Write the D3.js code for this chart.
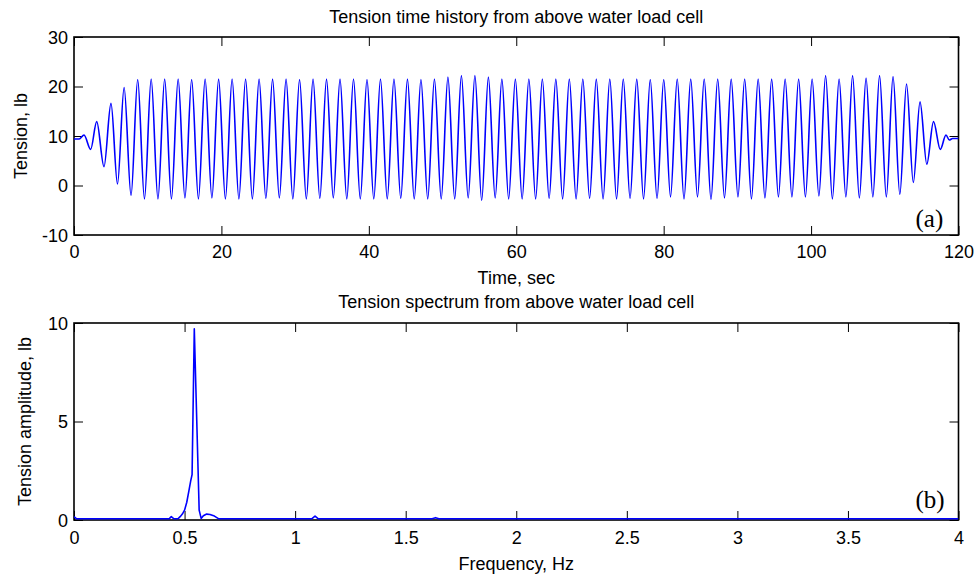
<!DOCTYPE html>
<html>
<head>
<meta charset="utf-8">
<script src="https://cdn.jsdelivr.net/npm/d3@7"></script>
<style>
  html, body { margin: 0; padding: 0; background: #fff; }
  svg { display: block; }
  text { font-family: "Liberation Sans", Arial, Helvetica, sans-serif; fill: #000; }
</style>
</head>
<body>
<svg id="chart" width="977" height="575"></svg>
<script>
// ---------- DATA ----------
// Panel (a): tension time history, turning points of the record
const timeSec = [
  0, 0.7, 1.36, 2.26, 3.08, 4.07, 5.02, 5.90, 6.80, 7.74,
  8.64, 9.56, 10.47, 11.39, 12.30, 13.22, 14.13, 15.05, 15.96, 16.88,
  17.79, 18.71, 19.62, 20.54, 21.45, 22.37, 23.28, 24.20, 25.11, 26.03,
  26.94, 27.86, 28.77, 29.69, 30.60, 31.52, 32.43, 33.35, 34.26, 35.18,
  36.09, 37.01, 37.92, 38.84, 39.75, 40.67, 41.58, 42.50, 43.41, 44.33,
  45.24, 46.16, 47.07, 47.99, 48.90, 49.82, 50.73, 51.65, 52.56, 53.48,
  54.39, 55.31, 56.22, 57.14, 58.05, 58.97, 59.88, 60.80, 61.71, 62.63,
  63.54, 64.46, 65.37, 66.29, 67.20, 68.12, 69.03, 69.95, 70.86, 71.78,
  72.69, 73.61, 74.52, 75.44, 76.35, 77.27, 78.18, 79.10, 80.01, 80.93,
  81.84, 82.76, 83.67, 84.59, 85.50, 86.42, 87.33, 88.25, 89.16, 90.08,
  90.99, 91.91, 92.82, 93.74, 94.65, 95.57, 96.48, 97.40, 98.31, 99.23,
  100.14, 101.06, 101.97, 102.89, 103.80, 104.72, 105.63, 106.55, 107.46, 108.38,
  109.29, 110.21, 111.12, 112.04, 112.95, 113.87, 114.78, 115.70, 116.61, 117.53,
  118.3, 118.75, 119.2, 120
];
const tensionLb = [
  9.4, 9.4, 10.2, 7.3, 12.9, 3.8, 16.6, 0.3, 19.8, -2.0,
  21.4, -2.7, 21.5, -2.7, 21.5, -2.7, 21.5, -2.5, 21.4, -2.7,
  21.5, -2.5, 21.5, -2.7, 21.5, -2.7, 21.5, -2.7, 21.5, -2.6,
  21.5, -2.5, 21.5, -2.7, 21.4, -2.7, 21.5, -2.6, 21.5, -2.5,
  21.5, -2.7, 21.5, -2.7, 21.4, -2.7, 21.5, -2.7, 21.5, -2.6,
  21.5, -2.7, 21.4, -2.7, 21.5, -2.7, 21.9, -2.7, 22.2, -2.5,
  22.2, -3.0, 21.9, -2.5, 21.5, -2.7, 21.5, -2.7, 21.5, -2.7,
  21.5, -2.6, 21.5, -2.7, 21.5, -2.7, 21.5, -2.6, 21.5, -2.7,
  21.5, -2.7, 21.5, -2.6, 21.5, -2.7, 21.4, -2.6, 21.4, -2.3,
  21.5, -2.7, 21.5, -2.3, 21.5, -2.8, 21.5, -2.5, 21.5, -2.3,
  21.5, -2.7, 21.5, -2.5, 21.5, -2.3, 21.5, -2.3, 21.5, -2.3,
  21.5, -2.1, 22.2, -2.7, 21.5, -2.3, 22.2, -2.5, 21.7, -2.3,
  22.2, -2.3, 22.0, -1.8, 20.5, 0.6, 16.9, 4.3, 12.9, 7.3,
  10.2, 9.2, 9.5, 9.5
];
const timeTicks = [0, 20, 40, 60, 80, 100, 120];
const tensionTicks = [-10, 0, 10, 20, 30];

// Panel (b): tension spectrum
const freqHz = [0, 0.012, 0.43, 0.44, 0.452, 0.47, 0.48, 0.49, 0.50, 0.51, 0.52, 0.528, 0.534, 0.544,
  0.566, 0.575, 0.585, 0.60, 0.615, 0.635, 0.655, 1.075, 1.09, 1.105, 1.62, 1.635, 1.65, 4.0];
const ampLb = [0.17, 0.06, 0.06, 0.17, 0.06, 0.06, 0.17, 0.3, 0.5, 0.9, 1.5, 2.0, 2.3, 9.7,
  0.5, 0.08, 0.22, 0.3, 0.28, 0.2, 0.06, 0.06, 0.2, 0.06, 0.06, 0.12, 0.06, 0.06];
const freqTicks = [0, 0.5, 1, 1.5, 2, 2.5, 3, 3.5, 4];
const ampTicks = [0, 5, 10];

const titles = ["Tension time history from above water load cell", "Tension spectrum from above water load cell"];
const xLabels = ["Time, sec", "Frequency, Hz"];
const yLabels = ["Tension, lb", "Tension amplitude, lb"];
const panelTags = ["(a)", "(b)"];

// ---------- DRAWING ----------
const svg = d3.select("#chart");
const FS = 18, TICK = 9;
const fmt = v => String(v); // plain hyphen minus, as in the reference

function panel(opt) {
  const { left, right, top, bottom, xDomain, yDomain, xTicks, yTicks, xs, ys, curve, idx } = opt;
  const x = d3.scaleLinear().domain(xDomain).range([left, right]);
  const y = d3.scaleLinear().domain(yDomain).range([bottom, top]);
  const g = svg.append("g");

  const clipId = "clip" + idx;
  svg.append("clipPath").attr("id", clipId)
    .append("rect").attr("x", left).attr("y", top).attr("width", right - left).attr("height", bottom - top);

  // ticks on all four sides (inside)
  const mk = (axis, tr) => {
    const a = g.append("g").attr("transform", tr).call(axis);
    a.select(".domain").remove();
    a.selectAll(".tick line").attr("stroke", "#000").attr("stroke-width", 1);
    return a;
  };
  const bx = mk(d3.axisBottom(x).tickValues(xTicks).tickSizeInner(-TICK).tickSizeOuter(0).tickFormat(fmt), `translate(0,${bottom})`);
  bx.selectAll("text").attr("y", opt.xTickBase - bottom).attr("dy", 0)
    .style("font-size", FS + "px").style("font-family", '"Liberation Sans", Arial, sans-serif').attr("fill", "#000");
  mk(d3.axisTop(x).tickValues(xTicks).tickSizeInner(-TICK).tickSizeOuter(0).tickFormat(""), `translate(0,${top})`);
  const ly = mk(d3.axisLeft(y).tickValues(yTicks).tickSizeInner(-TICK).tickSizeOuter(0).tickFormat(fmt), `translate(${left},0)`);
  ly.selectAll("text").attr("x", -6).attr("dy", "0.35em")
    .style("font-size", FS + "px").style("font-family", '"Liberation Sans", Arial, sans-serif').attr("fill", "#000");
  mk(d3.axisRight(y).tickValues(yTicks).tickSizeInner(-TICK).tickSizeOuter(0).tickFormat(""), `translate(${right},0)`);

  // box
  g.append("rect").attr("x", left).attr("y", top).attr("width", right - left).attr("height", bottom - top)
    .attr("fill", "none").attr("stroke", "#000").attr("stroke-width", 1.6);

  // data line
  const pts = xs.map((v, i) => [v, ys[i]]);
  g.append("path").datum(pts)
    .attr("clip-path", `url(#${clipId})`)
    .attr("fill", "none").attr("stroke", "#0000ff").attr("stroke-width", 1.6).attr("stroke-linejoin", "round")
    .attr("d", d3.line().x(d => x(d[0])).y(d => y(d[1])).curve(curve));

  // titles & labels
  const cx = (left + right) / 2;
  svg.append("text").attr("x", cx).attr("y", opt.titleBase).attr("text-anchor", "middle")
    .style("font-size", FS + "px").text(titles[idx]);
  svg.append("text").attr("x", cx).attr("y", opt.xLabelBase).attr("text-anchor", "middle")
    .style("font-size", FS + "px").text(xLabels[idx]);
  svg.append("text").attr("transform", `translate(${opt.yLabelBase},${(top + bottom) / 2}) rotate(-90)`)
    .attr("text-anchor", "middle").style("font-size", FS + "px").text(yLabels[idx]);
  svg.append("text").attr("x", right - 43).attr("y", opt.tagBase)
    .style("font-family", '"Liberation Serif", "Times New Roman", serif').style("font-size", "25px")
    .text(panelTags[idx]);
}

panel({
  idx: 0, left: 74, right: 958.5, top: 37, bottom: 235,
  xDomain: [0, 120], yDomain: [-10, 30], xTicks: timeTicks, yTicks: tensionTicks,
  xs: timeSec, ys: tensionLb, curve: d3.curveMonotoneX,
  titleBase: 23, xTickBase: 258, xLabelBase: 284, yLabelBase: 27, tagBase: 227
});
panel({
  idx: 1, left: 74, right: 958.5, top: 323, bottom: 520,
  xDomain: [0, 4], yDomain: [0, 10], xTicks: freqTicks, yTicks: ampTicks,
  xs: freqHz, ys: ampLb, curve: d3.curveLinear,
  titleBase: 308, xTickBase: 544, xLabelBase: 570, yLabelBase: 31, tagBase: 508
});
</script>
</body>
</html>
